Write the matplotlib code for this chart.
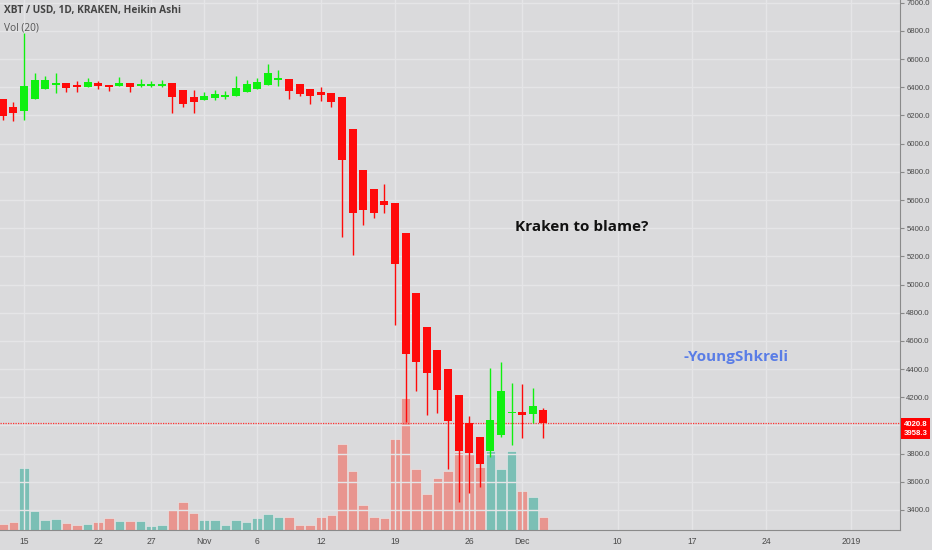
import matplotlib
matplotlib.use('Agg')
import matplotlib.pyplot as plt
import matplotlib.dates as mdates
import pandas as pd

# Heikin Ashi candles, XBT/USD daily (Kraken), 2018-10-13 .. 2018-12-03
start = '2018-10-13'
ha_open = [6315, 6258, 6234, 6317, 6388, 6420, 6427, 6416, 6404, 6427,
           6419, 6407, 6427, 6409, 6412, 6414, 6427, 6378, 6329, 6312,
           6322, 6337, 6336, 6365, 6388, 6413, 6456, 6461, 6421, 6386,
           6369, 6357, 6329, 6106, 5810, 5676, 5590, 5580, 5363, 4938,
           4699, 4534, 4400, 4218, 4020, 3916, 3821, 3930, 4086, 4094,
           4081, 4110]
ha_close = [6198, 6216, 6409, 6452, 6452, 6430, 6393, 6404, 6434, 6409,
            6400, 6427, 6404, 6422, 6418, 6420, 6331, 6281, 6296, 6336,
            6355, 6343, 6393, 6421, 6437, 6499, 6462, 6376, 6352, 6340,
            6345, 6298, 5882, 5510, 5531, 5510, 5565, 5144, 4505, 4448,
            4370, 4254, 4032, 3821, 3807, 3724, 4039, 4247, 4096, 4074,
            4138, 4020]
ha_high = [6320, 6298, 6785, 6499, 6480, 6499, 6427, 6445, 6468, 6443,
           6419, 6475, 6427, 6459, 6445, 6450, 6427, 6378, 6381, 6369,
           6381, 6372, 6480, 6452, 6464, 6563, 6523, 6461, 6421, 6386,
           6404, 6357, 6329, 6106, 5810, 5676, 5711, 5580, 5363, 4938,
           4699, 4534, 4400, 4218, 4067, 3916, 4406, 4453, 4304, 4293,
           4268, 4122]
ha_low = [6165, 6161, 6168, 6317, 6388, 6357, 6367, 6370, 6404, 6386,
          6374, 6407, 6370, 6400, 6400, 6400, 6218, 6258, 6215, 6312,
          6310, 6315, 6336, 6365, 6388, 6413, 6409, 6315, 6338, 6281,
          6300, 6262, 5340, 5210, 5423, 5470, 5506, 4713, 4027, 4247,
          4074, 4091, 3689, 3459, 3518, 3561, 3778, 3920, 3861, 3909,
          4020, 3909]
volume = [570, 770, 6200, 1870, 970, 1070, 730, 470, 570, 830,
          1200, 870, 930, 900, 400, 470, 2030, 2770, 1730, 1030,
          1030, 470, 1030, 770, 1200, 1570, 1300, 1300, 500, 500,
          1330, 1500, 8600, 5900, 2500, 1330, 1170, 9100, 13170, 6070,
          3600, 5170, 5930, 7830, 7700, 6330, 7930, 6100, 7930, 3930,
          3270, 1270]

last_price = 4020.8
last_close = 3958.3

price_ticks = list(range(3400, 7001, 200))
date_ticks = ['2018-10-15', '2018-10-22', '2018-10-27', '2018-11-01', '2018-11-06',
              '2018-11-12', '2018-11-19', '2018-11-26', '2018-12-01', '2018-12-10',
              '2018-12-17', '2018-12-24', '2019-01-01']
date_labels = ['15', '22', '27', 'Nov', '6', '12', '19', '26', 'Dec', '10', '17', '24', '2019']

BG = '#dadadc'
GRID = '#e5e5e7'
UP = '#10f010'
DOWN = '#ff0a0a'
VOL_UP = '#7bbfb5'
VOL_DOWN = '#e8958f'
TXT = '#4a4a4a'

dates = pd.date_range(start, periods=len(ha_open))
x = mdates.date2num(dates)

fig = plt.figure(figsize=(9.32, 5.5), dpi=100, facecolor=BG)
ax = fig.add_axes([0, 20 / 550, 900 / 932, 530 / 550])
axv = ax.twinx()
ax.set_zorder(axv.get_zorder() + 1)
ax.patch.set_visible(False)
axv.set_facecolor(BG)

# volume underneath
vcolors = [VOL_UP if c >= o else VOL_DOWN for o, c in zip(ha_open, ha_close)]
axv.bar(x, volume, width=0.92, color=vcolors, edgecolor='#ececec', linewidth=0.4)
axv.set_ylim(0, 53000)
axv.set_yticks([])
for s in axv.spines.values():
    s.set_visible(False)

# candles
for xi, o, h, l, c in zip(x, ha_open, ha_high, ha_low, ha_close):
    col = UP if c >= o else DOWN
    ax.vlines(xi, l, h, color=col, linewidth=1.0, zorder=3)
    lo, hi = min(o, c), max(o, c)
    if hi - lo < 12:
        mid = (hi + lo) / 2
        lo, hi = mid - 6, mid + 6
    ax.bar(xi, hi - lo, bottom=lo, width=0.75, color=col, linewidth=0, zorder=4)

ax.axhline(last_price, color='#ff3030', linewidth=0.9, linestyle=(0, (1, 1)), zorder=2)

ax.set_xlim(x[0] - 0.264, x[0] + 84.64)
ax.set_ylim(3258, 7019.5)

ax.yaxis.tick_right()
ax.set_yticks(price_ticks)
ax.set_yticklabels(['%.1f' % p for p in price_ticks])
ax.set_xticks(mdates.date2num(pd.to_datetime(date_ticks)))
ax.set_xticklabels(date_labels)
ax.tick_params(axis='y', labelsize=5.6, colors='#888888', labelcolor=TXT, length=3, pad=1.5)
ax.tick_params(axis='x', labelsize=6.2, colors='#888888', labelcolor=TXT, length=0, pad=5)
for lab in ax.get_xticklabels() + ax.get_yticklabels():
    lab.set_family('Liberation Sans')

ax.grid(True, color=GRID, linewidth=1.0)
ax.set_axisbelow(True)
for name in ['top', 'left']:
    ax.spines[name].set_visible(False)
ax.spines['right'].set_color('#8a8a8a')
ax.spines['bottom'].set_color('#8a8a8a')

# last price / close labels stacked in one red box on the axis
ax.annotate('%.1f\n%.1f' % (last_price, last_close), xy=(1.0, last_price),
            xycoords=ax.get_yaxis_transform(), xytext=(2.5, -4.5), textcoords='offset points',
            fontsize=5.6, color='white', fontweight='bold', va='center', ha='left',
            linespacing=1.45, family='Liberation Sans',
            bbox=dict(boxstyle='square,pad=0.3', fc='#ff0000', ec='none'),
            annotation_clip=False)

# header
fig.text(4 / 932, 1 - 11 / 550, 'XBT / USD, 1D, KRAKEN, Heikin Ashi', fontsize=7.3,
         fontweight='bold', color='#444444', va='center', family='Open Sans')
fig.text(4 / 932, 1 - 28 / 550, 'Vol (20)', fontsize=7.3, color='#555555', va='center',
         family='Open Sans')

# annotations
ax.text(mdates.date2num(pd.Timestamp('2018-12-06 14:00')), 5408, 'Kraken to blame?',
        fontsize=11, fontweight='bold', color='#111111', ha='center', va='center',
        family='Open Sans')
ax.text(mdates.date2num(pd.Timestamp('2018-12-21 05:00')), 4486, '-YoungShkreli',
        fontsize=11, fontweight='bold', color='#5a7de6', ha='center', va='center',
        family='Open Sans')

fig.savefig('out.png', dpi=100, facecolor=BG)
